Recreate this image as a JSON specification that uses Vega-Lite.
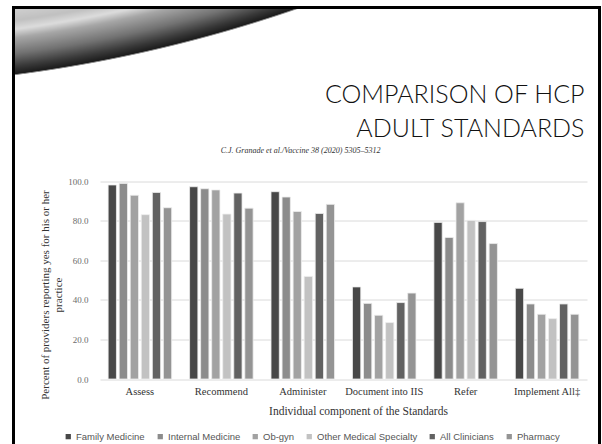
{
  "$schema": "https://vega.github.io/schema/vega-lite/v6.json",
  "width": 586,
  "height": 444,
  "autosize": {"type": "none"},
  "padding": {"left": 13.5, "top": 7.5, "right": 2.5, "bottom": 0},
  "background": "white",
  "view": {
    "stroke": "#000000",
    "strokeWidth": 3,
    "fill": {
      "gradient": "radial",
      "x1": -0.307, "y1": -2.172, "r1": 0,
      "x2": -0.307, "y2": -2.172, "r2": 2.4282,
      "stops": [
        {"offset": 0, "color": "#e0e0e0"},
        {"offset": 0.95, "color": "#d6d6d6"},
        {"offset": 0.962, "color": "#c0c0c0"},
        {"offset": 0.968, "color": "#dcdcdc"},
        {"offset": 0.974, "color": "#a6a6a6"},
        {"offset": 0.985, "color": "#727272"},
        {"offset": 0.994, "color": "#383838"},
        {"offset": 0.9995, "color": "#1a1a1a"},
        {"offset": 1, "color": "#ffffff"}
      ]
    }
  },
  "title": {
    "text": ["COMPARISON OF HCP", "ADULT STANDARDS"],
    "anchor": "end",
    "frame": "group",
    "font": "Lato",
    "fontWeight": 300,
    "fontSize": 25,
    "lineHeight": 34,
    "color": "#111111",
    "baseline": "top",
    "offset": 0,
    "dx": -15,
    "dy": 134
  },
  "data": {
    "values": [
      {"Component": "Assess", "Provider": "Family Medicine", "Percent": 98.0},
      {"Component": "Assess", "Provider": "Internal Medicine", "Percent": 98.8},
      {"Component": "Assess", "Provider": "Ob-gyn", "Percent": 92.8},
      {"Component": "Assess", "Provider": "Other Medical Specialty", "Percent": 83.0},
      {"Component": "Assess", "Provider": "All Clinicians", "Percent": 94.2},
      {"Component": "Assess", "Provider": "Pharmacy", "Percent": 86.5},
      {"Component": "Recommend", "Provider": "Family Medicine", "Percent": 97.1},
      {"Component": "Recommend", "Provider": "Internal Medicine", "Percent": 96.1},
      {"Component": "Recommend", "Provider": "Ob-gyn", "Percent": 95.5},
      {"Component": "Recommend", "Provider": "Other Medical Specialty", "Percent": 83.3},
      {"Component": "Recommend", "Provider": "All Clinicians", "Percent": 93.9},
      {"Component": "Recommend", "Provider": "Pharmacy", "Percent": 86.3},
      {"Component": "Administer", "Provider": "Family Medicine", "Percent": 94.6},
      {"Component": "Administer", "Provider": "Internal Medicine", "Percent": 91.9},
      {"Component": "Administer", "Provider": "Ob-gyn", "Percent": 84.6},
      {"Component": "Administer", "Provider": "Other Medical Specialty", "Percent": 51.8},
      {"Component": "Administer", "Provider": "All Clinicians", "Percent": 83.6},
      {"Component": "Administer", "Provider": "Pharmacy", "Percent": 88.2},
      {"Component": "Document into IIS", "Provider": "Family Medicine", "Percent": 46.5},
      {"Component": "Document into IIS", "Provider": "Internal Medicine", "Percent": 38.2},
      {"Component": "Document into IIS", "Provider": "Ob-gyn", "Percent": 32.2},
      {"Component": "Document into IIS", "Provider": "Other Medical Specialty", "Percent": 28.5},
      {"Component": "Document into IIS", "Provider": "All Clinicians", "Percent": 38.6},
      {"Component": "Document into IIS", "Provider": "Pharmacy", "Percent": 43.4},
      {"Component": "Refer", "Provider": "Family Medicine", "Percent": 79.1},
      {"Component": "Refer", "Provider": "Internal Medicine", "Percent": 71.5},
      {"Component": "Refer", "Provider": "Ob-gyn", "Percent": 89.0},
      {"Component": "Refer", "Provider": "Other Medical Specialty", "Percent": 80.1},
      {"Component": "Refer", "Provider": "All Clinicians", "Percent": 79.5},
      {"Component": "Refer", "Provider": "Pharmacy", "Percent": 68.4},
      {"Component": "Implement All‡", "Provider": "Family Medicine", "Percent": 45.8},
      {"Component": "Implement All‡", "Provider": "Internal Medicine", "Percent": 37.9},
      {"Component": "Implement All‡", "Provider": "Ob-gyn", "Percent": 32.7},
      {"Component": "Implement All‡", "Provider": "Other Medical Specialty", "Percent": 30.5},
      {"Component": "Implement All‡", "Provider": "All Clinicians", "Percent": 37.9},
      {"Component": "Implement All‡", "Provider": "Pharmacy", "Percent": 32.7}
    ]
  },
  "encoding": {
    "x": {
      "field": "Component",
      "type": "nominal",
      "sort": null,
      "scale": {"range": [86.5, 573.5], "paddingInner": 0.22, "paddingOuter": 0.1},
      "axis": {
        "orient": "bottom",
        "offset": -72.5,
        "title": "Individual component of the Standards",
        "titleFont": "Liberation Serif",
        "titleFontSize": 11.5,
        "titleFontWeight": "normal",
        "titleColor": "#333333",
        "titleX": 344.5,
        "titlePadding": 9,
        "labelAngle": 0,
        "labelFont": "Liberation Serif",
        "labelFontSize": 10.5,
        "labelColor": "#333333",
        "labelPadding": 7,
        "ticks": false,
        "domain": false,
        "grid": false
      }
    },
    "xOffset": {
      "field": "Provider",
      "type": "nominal",
      "sort": ["Family Medicine", "Internal Medicine", "Ob-gyn", "Other Medical Specialty", "All Clinicians", "Pharmacy"],
      "scale": {"paddingInner": 0.25, "paddingOuter": 0}
    },
    "y": {
      "field": "Percent",
      "type": "quantitative",
      "scale": {"domain": [0, 100], "range": [371.5, 173.5], "nice": false},
      "axis": {
        "orient": "left",
        "offset": -86.5,
        "values": [0, 20, 40, 60, 80, 100],
        "format": ".1f",
        "title": ["Percent of providers reporting yes for his or her", "practice"],
        "titleFont": "Liberation Serif",
        "titleFontSize": 11,
        "titleFontWeight": "normal",
        "titleColor": "#333333",
        "titleLineHeight": 13,
        "titleY": 287,
        "titlePadding": 4,
        "labelFont": "Liberation Serif",
        "labelFontSize": 9,
        "labelColor": "#6b6b6b",
        "labelPadding": 12,
        "ticks": false,
        "domain": false,
        "grid": true,
        "gridColor": "#dadada",
        "gridWidth": 1
      }
    }
  },
  "layer": [
    {
      "mark": {"type": "bar"},
      "encoding": {
        "color": {
          "field": "Provider",
          "type": "nominal",
          "scale": {
            "domain": ["Family Medicine", "Internal Medicine", "Ob-gyn", "Other Medical Specialty", "All Clinicians", "Pharmacy"],
            "range": ["#484848", "#8c8c8c", "#a2a2a2", "#c2c2c2", "#626262", "#949494"]
          },
          "legend": {
            "orient": "none",
            "legendX": 50,
            "legendY": 424,
            "direction": "horizontal",
            "columns": 6,
            "title": null,
            "symbolType": "square",
            "symbolSize": 28,
            "symbolStrokeWidth": 0,
            "symbolOpacity": 1,
            "labelFont": "Liberation Sans",
            "labelFontSize": 9.5,
            "labelColor": "#555555",
            "labelOffset": 3,
            "columnPadding": 10
          }
        }
      }
    },
    {
      "mark": {"type": "bar", "fillOpacity": 0, "stroke": "#eeeeee", "strokeWidth": 0.8},
      "encoding": {
        "x": {
          "field": "Component",
          "type": "nominal",
          "sort": null,
          "axis": {
            "orient": "top",
            "labels": false,
            "ticks": false,
            "domain": false,
            "grid": false,
            "title": "C.J. Granade et al./Vaccine 38 (2020) 5305–5312",
            "titleFont": "Liberation Serif",
            "titleFontStyle": "italic",
            "titleFontWeight": "normal",
            "titleFontSize": 8,
            "titleColor": "#333333",
            "titleX": 286.5,
            "titleY": 145,
            "titleAlign": "center",
            "titleBaseline": "alphabetic"
          }
        }
      }
    }
  ],
  "resolve": {"axis": {"x": "independent"}}
}
